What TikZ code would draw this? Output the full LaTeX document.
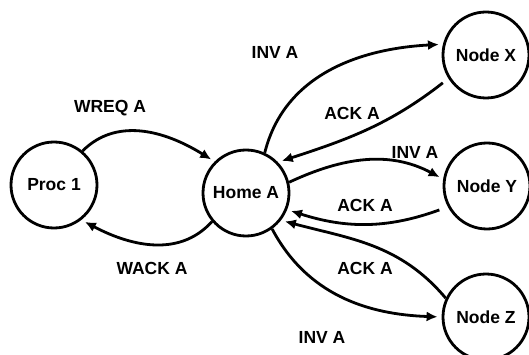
\documentclass[tikz,border=0pt]{standalone}
\usepackage{fontspec}
\setmainfont{Liberation Sans}
\usetikzlibrary{arrows.meta}
\begin{document}
\begin{tikzpicture}[x=1pt,y=-1pt,
  state/.style={circle,draw,line width=2.8pt,minimum size=86pt,inner sep=0pt,
    font=\fontsize{17.5}{20}\selectfont\bfseries},
  msg/.style={line width=2.8pt,-{Latex[length=11pt,width=10pt]},shorten >=4pt},
  lbl/.style={inner sep=0pt,font=\fontsize{17.5}{20}\selectfont\bfseries}]
\useasboundingbox (0,0) rectangle (529,355);
\clip (0,0) rectangle (529,355);

% processes
\node[state] (proc) at (54,185) {Proc 1};
\node[state] (home) at (246,193) {Home A};
\node[state] (nx) at (486,55) {Node X};
\node[state] (ny) at (487,186) {Node Y};
\node[state] (nz) at (486,317) {Node Z};

% write request and its acknowledgement
\draw[msg] (proc.50) to[out=45,in=148] (home.135);
\draw[msg] (home.220) to[out=228,in=-28] (proc.-52);

% invalidations sent by the home
\draw[msg] (home.65) to[out=76,in=183] (nx.166);
\draw[msg] (home.14) to[out=25,in=152] (ny.171);
\draw[msg] (home.-54) to[out=-62,in=178] (nz.180);

% acknowledgements returned to the home
\draw[msg,shorten <=7pt] (nx.212) to[out=218,in=18] (home.44);
\draw[msg,shorten <=9pt] (ny.208) to[out=200,in=-18] (home.-22);
\draw[msg] (nz.155) to[out=130,in=-15] (home.-38);

% message labels
\node[lbl] (lwreq) at (110,108) {WREQ A};
\node[lbl] (lwack) at (152,268) {WACK A};
\node[lbl] (linvx) at (275,52) {INV A};
\node[lbl] (lackx) at (352,113) {ACK A};
\node[lbl] (linvy) at (415,152) {INV A};
\node[lbl] (lacky) at (365,205) {ACK A};
\node[lbl] (lackz) at (365,268) {ACK A};
\node[lbl] (linvz) at (322,337) {INV A};
\end{tikzpicture}
\end{document}
